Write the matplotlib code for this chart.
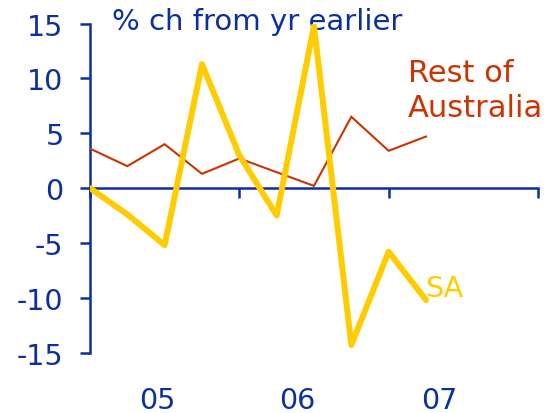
import numpy as np
import matplotlib.pyplot as plt
import matplotlib.transforms as mtransforms

plt.rcParams['font.family'] = ['DejaVu Sans']
plt.rcParams['axes.unicode_minus'] = False

# Quarterly, % change from a year earlier, starting 2005 Q1
quarters = 2005 + 0.25 * np.arange(10)
sa = [0.0, -2.4, -5.2, 11.3, 3.0, -2.5, 14.8, -14.3, -5.8, -10.2]
rest_of_aus = [3.6, 2.0, 4.0, 1.3, 2.7, 1.45, 0.2, 6.5, 3.4, 4.7]

year_labels = ['05', '06', '07']
year_label_x = [2005.45, 2006.39, 2007.34]

navy = '#0b2f9f'
yellow = '#ffcc00'
red = '#cc3300'

fig = plt.figure(figsize=(5.52, 4.14), dpi=100)
ax = fig.add_axes([0.163, 0.1457, 0.8116, 0.7951])

ax.plot(quarters, rest_of_aus, color=red, lw=1.5, solid_joinstyle='miter', zorder=3)
ax.plot(quarters, sa, color=yellow, lw=4.3, solid_capstyle='round',
        solid_joinstyle='round', zorder=4)

ax.set_xlim(2005, 2008)
ax.set_ylim(-15, 15)

# spines: left axis plus a zero line carrying the year ticks
for s in ['top', 'right']:
    ax.spines[s].set_visible(False)
ax.spines['left'].set_color(navy)
ax.spines['left'].set_linewidth(1.8)
ax.spines['bottom'].set_position(('data', 0))
ax.spines['bottom'].set_color(navy)
ax.spines['bottom'].set_linewidth(1.8)
ax.spines['bottom'].set_zorder(2)

ax.set_yticks([-15, -10, -5, 0, 5, 10, 15])
ax.tick_params(axis='y', direction='out', length=7, width=1.8, color=navy,
               labelcolor=navy, labelsize=20.5, pad=12)
ax.set_xticks([2005, 2006, 2007, 2008])
ax.tick_params(axis='x', direction='out', length=7, width=1.8, color=navy,
               labelbottom=False)

trans = mtransforms.blended_transform_factory(ax.transData, fig.transFigure)
for lab, xp in zip(year_labels, year_label_x):
    ax.text(xp, 1 - 401 / 414, lab, transform=trans, ha='center', va='center',
            color=navy, fontsize=20.5, clip_on=False)

ax.text(2005.147, 15.2, '% ch from yr earlier', color=navy, fontsize=21,
        ha='left', va='center', clip_on=False)
ax.text(2007.131, 8.95, 'Rest of\nAustralia', color=red, fontsize=22,
        ha='left', va='center', linespacing=1.25, clip_on=False)
ax.text(2007.245, -9.07, 'SA', color=yellow, fontsize=20.5,
        ha='left', va='center', clip_on=False)

fig.savefig('out.png', dpi=100)
